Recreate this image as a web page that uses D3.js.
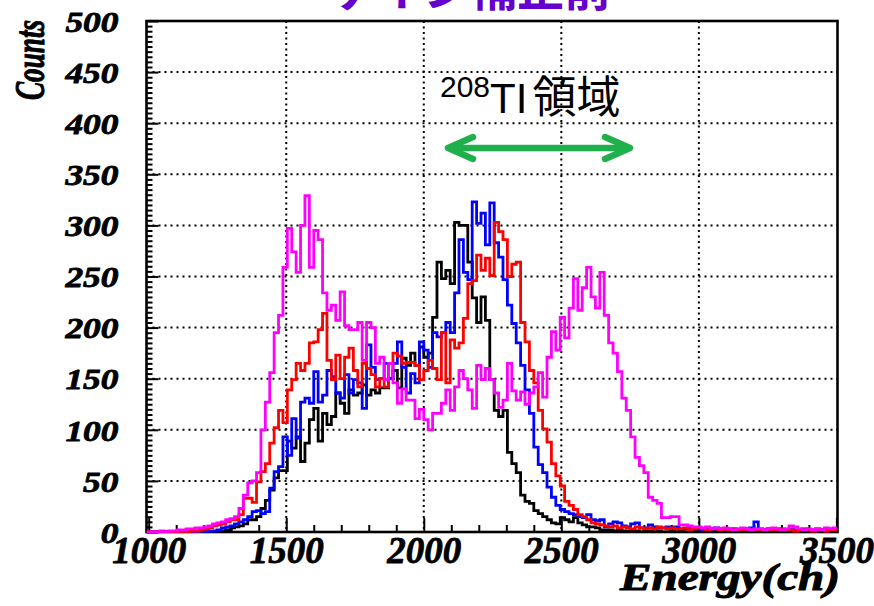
<!DOCTYPE html>
<html>
<head>
<meta charset="utf-8">
<script src="https://cdn.jsdelivr.net/npm/d3@7"></script>
<style>
  body { margin: 0; background: #fff; }
</style>
</head>
<body>
<div id="chart"></div>
<script>
// histogram binning (channels)
var binStart = 992;
var binWidth = 16;

// counts per bin
var magentaCounts = [
  0,0,0,1,0,1,1,2,2,3,
  3,4,4,5,6,8,9,10,12,13,
  15,23,36,48,50,58,100,127,156,195,
  212,259,297,274,254,300,329,259,295,286,
  234,217,222,207,235,202,198,198,205,168,
  205,200,165,171,149,165,146,126,140,129,
  129,111,120,110,100,116,116,126,139,119,
  142,158,150,139,121,163,149,160,149,136,
  122,129,165,138,129,137,125,136,142,156,
  132,171,196,178,210,190,219,248,217,239,
  259,230,219,254,212,185,175,157,131,119,
  93,73,65,58,34,31,28,14,14,15,
  15,7,7,6,5,5,4,5,3,4,
  3,4,3,2,3,4,3,2,3,3,
  2,3,4,3,2,3,6,5,3,2,
  3,2,3,2,4,3,4
];
var redCounts = [
  0,0,0,0,0,0,0,0,1,0,
  1,1,2,3,4,6,7,8,10,12,
  12,17,33,33,29,49,59,67,87,102,
  119,107,139,149,165,158,165,185,186,198,
  214,168,149,173,150,171,180,158,142,165,
  160,154,142,150,142,165,175,172,165,166,
  166,163,149,158,168,160,149,195,146,188,
  180,185,209,243,246,271,256,268,251,303,
  294,286,250,262,264,205,186,158,146,119,
  101,88,67,55,45,30,26,22,17,15,
  12,9,8,7,6,5,6,4,5,4,
  3,5,4,3,4,3,5,4,3,4,
  3,3,4,2,3,4,3,2,3,3,
  2,3,2,3,2,2,3,2,3,2,
  2,3,2,2,3,2,2,1,2,2,
  2,1,2,2,1,2,2
];
var blueCounts = [
  0,0,0,0,0,0,0,0,0,0,
  0,0,1,0,1,1,2,4,5,6,
  8,10,12,15,20,21,18,20,43,59,
  64,93,75,111,92,127,131,126,157,127,
  134,158,152,136,131,154,136,149,146,121,
  183,161,149,150,165,150,165,186,161,136,
  155,146,186,178,161,195,191,195,205,195,
  234,286,254,247,323,302,312,281,322,283,
  269,247,222,204,185,163,139,116,83,66,
  58,44,34,26,22,20,18,17,15,14,
  17,12,11,12,5,8,10,9,6,5,
  8,9,4,4,7,5,4,4,5,4,
  5,3,3,4,3,3,2,3,3,4,
  3,2,3,3,2,3,3,4,10,3,
  2,3,2,3,2,2,3,2,2,3,
  2,2,3,2,2,3,2
];
var blackCounts = [
  0,0,0,0,0,0,0,0,0,0,
  0,0,0,0,0,0,0,1,2,4,
  5,6,8,12,12,15,23,31,41,53,
  60,60,89,82,93,69,87,110,121,89,
  116,105,113,136,126,116,139,134,136,144,
  134,139,136,141,141,150,158,141,170,163,
  175,163,181,171,175,210,264,248,256,243,
  303,300,300,264,229,205,230,207,149,119,
  113,119,78,67,58,36,30,28,21,18,
  15,12,9,8,14,12,10,14,9,7,
  5,5,4,2,2,2,1,2,1,1,
  1,1,0,1,1,0,1,0,0,1,
  0,1,0,0,1,0,0,0,1,0,
  0,0,0,0,0,0,0,0,0,0,
  0,0,0,0,0,0,0,0,0,0,
  0,0,0,0,0,0,0
];

var xTicks = [1000, 1500, 2000, 2500, 3000, 3500];
var yTicks = [0, 50, 100, 150, 200, 250, 300, 350, 400, 450, 500];

var titleText = "ゲイン補正前";
var xTitle = "Energy(ch)";
var yTitle = "Counts";
var noteSup = "208";
var noteMain = "TI";
var noteCjk = "領域";

// layout *********************************************************
var width = 874, height = 606;
var plotLeft = 146.5, plotRight = 837.5, plotTop = 21, plotBottom = 532;
var labelFont = "'Liberation Serif', 'Times New Roman', serif";

var nBins = magentaCounts.length;
var x = d3.scaleLinear()
  .domain([binStart, binStart + nBins * binWidth])
  .range([plotLeft, plotRight]);
var y = d3.scaleLinear().domain([0, 500]).range([plotBottom, plotTop]);

var svg = d3.select("#chart").append("svg")
  .attr("width", width)
  .attr("height", height)
  .style("display", "block");

// bold italic serif text, a bit heavier like the original
function heavy(sel, size, w) {
  sel.attr("font-family", labelFont)
    .attr("font-weight", "bold")
    .attr("font-style", "italic")
    .attr("font-size", size)
    .attr("fill", "#000")
    .attr("stroke", "#000")
    .attr("stroke-width", w)
    .attr("stroke-linejoin", "round");
}

// title, cut by the top of the picture
svg.append("text")
  .attr("x", 330)
  .attr("y", 6)
  .attr("font-family", "'Noto Sans CJK JP', sans-serif")
  .attr("font-weight", "bold")
  .attr("font-size", 47)
  .attr("fill", "#6600cc")
  .text(titleText);

// grid *************************************************************
var grid = svg.append("g");
grid.selectAll(".vg")
  .data(xTicks.filter(function(d) { return d > 1000 && d < 3500; }))
  .enter().append("line")
  .attr("x1", function(d) { return x(d); })
  .attr("x2", function(d) { return x(d); })
  .attr("y1", plotTop)
  .attr("y2", plotBottom)
  .attr("stroke", "#000")
  .attr("stroke-width", 2)
  .attr("stroke-dasharray", "2,3.5");

grid.selectAll(".hg")
  .data(yTicks.filter(function(d) { return d > 0 && d < 500; }))
  .enter().append("line")
  .attr("x1", plotLeft)
  .attr("x2", plotRight)
  .attr("y1", function(d) { return y(d); })
  .attr("y2", function(d) { return y(d); })
  .attr("stroke", "#000")
  .attr("stroke-width", 2)
  .attr("stroke-dasharray", "2,4");

// axes ************************************************************
var minorX = d3.range(1100, 3500, 100).filter(function(d) { return d % 500 !== 0; });
var minorY = d3.range(5, 500, 5).filter(function(d) { return d % 50 !== 0; });

var xMinor = svg.append("g")
  .attr("transform", "translate(0," + plotBottom + ")")
  .call(d3.axisBottom(x).tickValues(minorX).tickSize(-7).tickFormat(""));

var xMajor = svg.append("g")
  .attr("transform", "translate(0," + plotBottom + ")")
  .call(d3.axisBottom(x).tickValues(xTicks).tickSize(-14).tickPadding(5)
    .tickFormat(d3.format("d")));

var yMinor = svg.append("g")
  .attr("transform", "translate(" + plotLeft + ",0)")
  .call(d3.axisLeft(y).tickValues(minorY).tickSize(-6).tickFormat(""));

var yMajor = svg.append("g")
  .attr("transform", "translate(" + plotLeft + ",0)")
  .call(d3.axisLeft(y).tickValues(yTicks).tickSize(-12).tickPadding(28)
    .tickFormat(d3.format("d")));

svg.selectAll(".domain").remove();
svg.selectAll(".tick line").attr("stroke", "#000").attr("stroke-width", 2);

heavy(xMajor.selectAll("text"), 37, 0.8);

heavy(yMajor.selectAll("text"), 28.5, 0.8);
yMajor.selectAll("text")
  .attr("dy", "0.36em")
  .attr("textLength", function(d) { return String(d).length * 17.7; })
  .attr("lengthAdjust", "spacingAndGlyphs");

// frame
svg.append("rect")
  .attr("x", plotLeft)
  .attr("y", plotTop)
  .attr("width", plotRight - plotLeft)
  .attr("height", plotBottom - plotTop)
  .attr("fill", "none")
  .attr("stroke", "#000")
  .attr("stroke-width", 2.6);

// histograms ******************************************************
svg.append("clipPath").attr("id", "plotClip")
  .append("rect")
  .attr("x", plotLeft).attr("y", plotTop - 2)
  .attr("width", plotRight - plotLeft).attr("height", plotBottom - plotTop + 3);

var line = d3.line()
  .x(function(d) { return x(d[0]); })
  .y(function(d) { return y(d[1]); })
  .curve(d3.curveStepAfter);

function steps(counts) {
  var pts = counts.map(function(v, i) { return [binStart + i * binWidth, v]; });
  pts.push([binStart + counts.length * binWidth, counts[counts.length - 1]]);
  return pts;
}

var series = [
  { counts: blackCounts, color: "#000000" },
  { counts: blueCounts, color: "#0000ff" },
  { counts: redCounts, color: "#ff0000" },
  { counts: magentaCounts, color: "#ff00ff" }
];

svg.append("g").attr("clip-path", "url(#plotClip)")
  .selectAll("path")
  .data(series)
  .enter().append("path")
  .attr("d", function(d) { return line(steps(d.counts)); })
  .attr("fill", "none")
  .attr("stroke", function(d) { return d.color; })
  .attr("stroke-width", 2.8);

// axis titles *****************************************************
var xt = svg.append("text")
  .attr("x", 840)
  .attr("y", 590)
  .attr("text-anchor", "end")
  .attr("textLength", 220)
  .attr("lengthAdjust", "spacingAndGlyphs")
  .text(xTitle);
heavy(xt, 37, 1);

var yt = svg.append("text")
  .attr("transform", "translate(44,20) rotate(-90)")
  .attr("text-anchor", "end")
  .attr("textLength", 80)
  .attr("lengthAdjust", "spacingAndGlyphs")
  .text(yTitle);
heavy(yt, 43, 1);

// 208Tl annotation ************************************************
var note = svg.append("text")
  .attr("x", 440)
  .attr("y", 113)
  .attr("font-family", "'Liberation Sans', Arial, sans-serif")
  .attr("fill", "#000");
note.append("tspan").attr("font-size", 30).attr("dy", -16).text(noteSup);
note.append("tspan").attr("font-size", 42).attr("dy", 16).text(noteMain);
note.append("tspan").attr("font-size", 44)
  .attr("font-family", "'Noto Sans CJK JP', sans-serif")
  .attr("dx", 5)
  .text(noteCjk);

var arrowY = 148, arrowL = 448, arrowR = 630;
var arrow = svg.append("g")
  .attr("stroke", "#1fb04b")
  .attr("stroke-width", 6.5)
  .attr("stroke-linecap", "round")
  .attr("stroke-linejoin", "round")
  .attr("fill", "none");
arrow.append("line")
  .attr("x1", arrowL + 2).attr("x2", arrowR - 2)
  .attr("y1", arrowY).attr("y2", arrowY);
arrow.append("polyline")
  .attr("points", [[arrowL + 25, arrowY - 11], [arrowL, arrowY], [arrowL + 25, arrowY + 11]].join(" "));
arrow.append("polyline")
  .attr("points", [[arrowR - 25, arrowY - 11], [arrowR, arrowY], [arrowR - 25, arrowY + 11]].join(" "));
</script>
</body>
</html>
